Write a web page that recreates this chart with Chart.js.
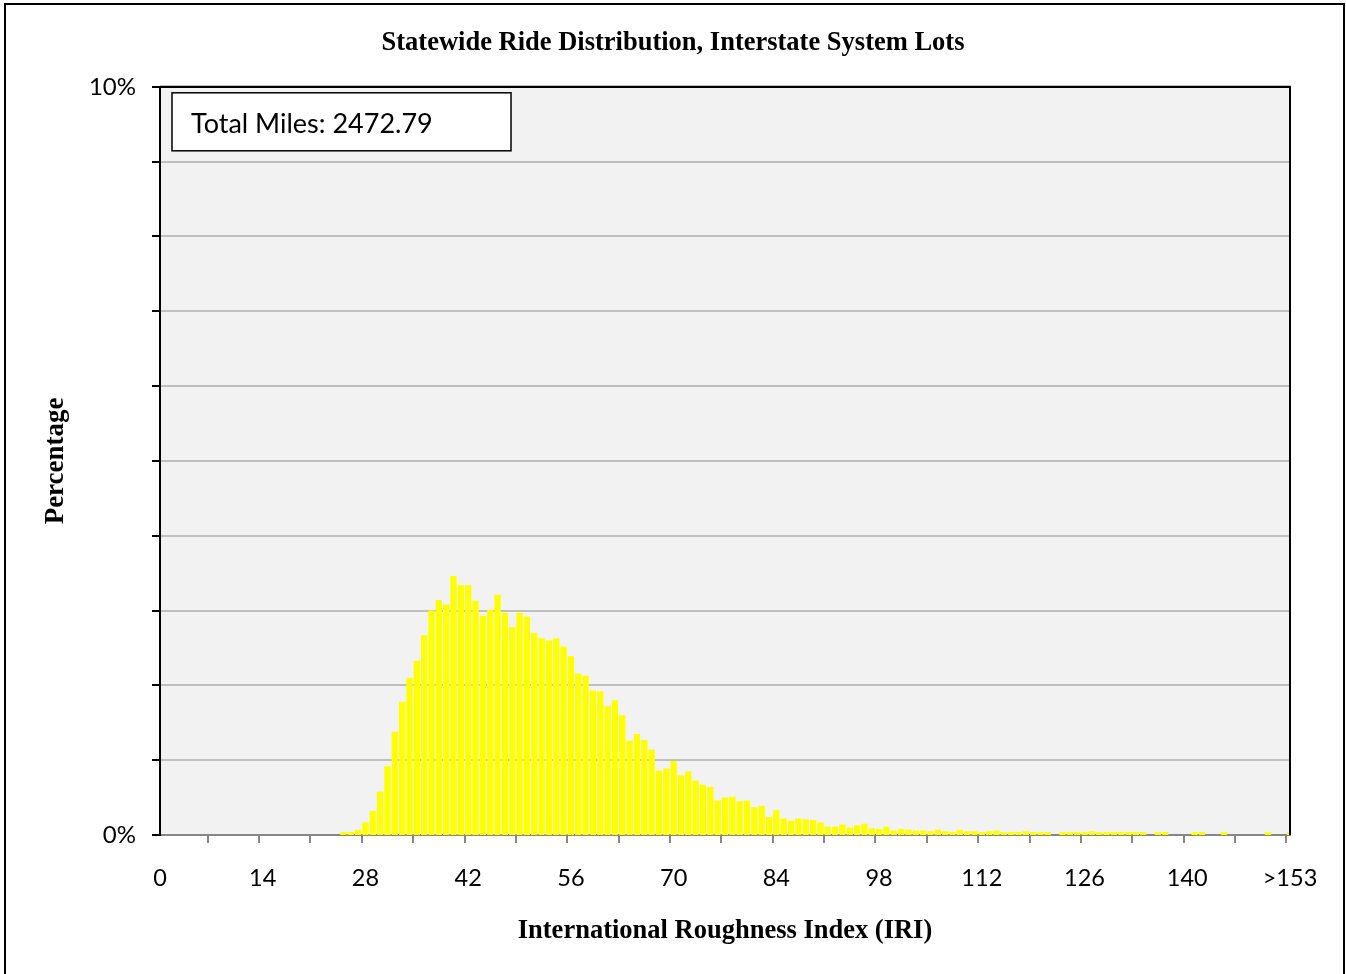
<!DOCTYPE html>
<html>
<head>
<meta charset="utf-8">
<title>Statewide Ride Distribution</title>
<script src="https://cdn.jsdelivr.net/npm/chart.js@4.4.1/dist/chart.umd.min.js"></script>
<style>
  html, body { margin: 0; padding: 0; background: #fff; }
  canvas { display: block; }
</style>
</head>
<body>
<canvas id="myChart" width="1346" height="974"></canvas>
<script>
// IRI categories 0..153 plus the overflow bucket
const iriLabels = Array.from({ length: 154 }, (_, i) => String(i)).concat(['>153']);

// percentage of lane miles in each IRI bucket
const ridePercent = [
  0, 0, 0, 0, 0, 0, 0, 0, 0, 0,                                   // 0-9
  0, 0, 0, 0, 0, 0, 0, 0, 0, 0,                                   // 10-19
  0, 0, 0, 0, 0, 0.02, 0.02, 0.05, 0.15, 0.30,                    // 20-29
  0.56, 0.90, 1.36, 1.76, 2.08, 2.31, 2.65, 2.98, 3.12, 3.06,     // 30-39
  3.44, 3.32, 3.32, 3.11, 2.91, 2.99, 3.19, 2.95, 2.76, 2.95,     // 40-49
  2.90, 2.68, 2.61, 2.58, 2.61, 2.50, 2.37, 2.14, 2.11, 1.91,     // 50-59
  1.90, 1.70, 1.78, 1.58, 1.24, 1.33, 1.25, 1.12, 0.84, 0.87,     // 60-69
  0.97, 0.78, 0.83, 0.71, 0.65, 0.62, 0.44, 0.48, 0.49, 0.43,     // 70-79
  0.44, 0.35, 0.37, 0.22, 0.31, 0.20, 0.17, 0.20, 0.19, 0.18,     // 80-89
  0.15, 0.09, 0.09, 0.12, 0.08, 0.11, 0.13, 0.07, 0.06, 0.09,     // 90-99
  0.04, 0.06, 0.05, 0.04, 0.04, 0.03, 0.05, 0.03, 0.02, 0.05,     // 100-109
  0.03, 0.03, 0.02, 0.03, 0.04, 0.02, 0.02, 0.02, 0.03, 0.02,     // 110-119
  0.02, 0.02, 0, 0.02, 0.02, 0.02, 0.02, 0.03, 0.02, 0.02,        // 120-129
  0.02, 0.02, 0.02, 0.02, 0.02, 0, 0.02, 0.02, 0, 0,              // 130-139
  0, 0.02, 0.02, 0, 0, 0.02, 0, 0, 0, 0,                          // 140-149
  0, 0.02, 0, 0, 0.02                                             // 150-153, >153
];

const yTicks = [0, 10];
const totalMiles = 'Total Miles: 2472.79';

Chart.defaults.font.family = 'Lato';
Chart.defaults.color = '#000';

// grey plot area
const plotBackground = {
  id: 'plotBackground',
  beforeDraw(chart) {
    const { ctx, chartArea: a } = chart;
    ctx.save();
    ctx.fillStyle = '#f2f2f2';
    ctx.fillRect(a.left, a.top, a.right - a.left, a.bottom - a.top);
    ctx.restore();
  }
};

// plot border, outer frame and the total miles box
const frames = {
  id: 'frames',
  afterDraw(chart) {
    const { ctx, chartArea: a, width, height } = chart;
    ctx.save();
    ctx.strokeStyle = '#000';
    ctx.lineWidth = 2;
    ctx.beginPath();
    ctx.moveTo(a.left, a.top);
    ctx.lineTo(a.right, a.top);
    ctx.lineTo(a.right, a.bottom);
    ctx.stroke();

    ctx.beginPath();
    ctx.moveTo(5, height + 2);
    ctx.lineTo(5, 4);
    ctx.lineTo(width - 2, 4);
    ctx.lineTo(width - 2, height + 2);
    ctx.stroke();

    const bx = a.left + 12, by = a.top + 6;
    ctx.fillStyle = '#fff';
    ctx.fillRect(bx, by, 339, 58);
    ctx.lineWidth = 1.5;
    ctx.strokeRect(bx, by, 339, 58);
    ctx.fillStyle = '#000';
    ctx.font = '27px Lato';
    ctx.textBaseline = 'alphabetic';
    ctx.fillText(totalMiles, bx + 19, by + 40);
    ctx.restore();
  }
};

const ctx = document.getElementById('myChart');

new Chart(ctx, {
  type: 'bar',
  data: {
    labels: iriLabels,
    datasets: [{
      label: 'Percentage',
      data: ridePercent,
      backgroundColor: c => (c.raw > 0 ? '#ffff00' : 'rgba(0,0,0,0)'),
      borderWidth: 0,
      inflateAmount: 1.5,
      barPercentage: 0.45,
      categoryPercentage: 1
    }]
  },
  options: {
    responsive: false,
    animation: false,
    layout: { padding: 0 },
    plugins: {
      legend: { display: false },
      tooltip: { enabled: false },
      title: {
        display: true,
        text: 'Statewide Ride Distribution, Interstate System Lots',
        font: { family: 'Liberation Serif', size: 26.5, weight: 'bold' },
        color: '#000',
        padding: { top: 27, bottom: 28 }
      }
    },
    scales: {
      x: {
        type: 'category',
        offset: false,
        z: 1,
        afterFit: s => { s.height = 139; },
        border: { color: '#868686', width: 2 },
        grid: {
          drawOnChartArea: false,
          drawTicks: true,
          tickLength: 8,
          lineWidth: 2,
          color: c => (c.index % 7 === 0 ? '#868686' : 'rgba(0,0,0,0)')
        },
        ticks: {
          autoSkip: false,
          maxRotation: 0,
          minRotation: 0,
          padding: 21,
          font: { size: 23.5 },
          color: '#000',
          callback: (v, i) => (i % 14 === 0 ? iriLabels[i] : '')
        },
        title: {
          display: true,
          text: 'International Roughness Index (IRI)',
          font: { family: 'Liberation Serif', size: 26.5, weight: 'bold' },
          color: '#000',
          padding: { top: 0, bottom: 27 }
        }
      },
      y: {
        min: 0,
        max: 10,
        afterFit: s => { s.width = 160; },
        border: { color: '#000', width: 2 },
        grid: {
          lineWidth: 2,
          tickLength: 8,
          tickColor: '#000',
          color: c => (c.tick.value === 0 ? 'rgba(0,0,0,0)' : c.tick.value === 10 ? '#000' : '#c0c0c0')
        },
        ticks: {
          stepSize: 1,
          padding: 16,
          font: { size: 24 },
          color: '#000',
          callback: v => (yTicks.includes(v) ? v + '%' : '')
        },
        title: {
          display: true,
          text: 'Percentage',
          font: { family: 'Liberation Serif', size: 27, weight: 'bold' },
          color: '#000',
          padding: { top: 40, bottom: 0 }
        }
      },
      y2: {
        position: 'right',
        afterFit: s => { s.width = 56; },
        grid: { display: false },
        border: { display: false },
        ticks: { display: false }
      }
    }
  },
  plugins: [plotBackground, frames]
});
</script>
</body>
</html>
